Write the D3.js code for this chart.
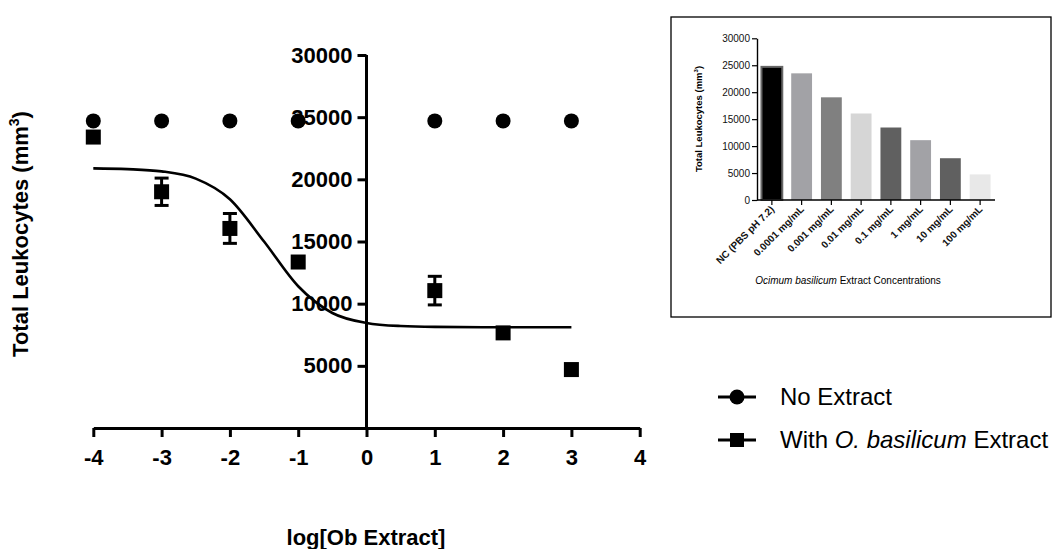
<!DOCTYPE html>
<html>
<head>
<meta charset="utf-8">
<script src="https://cdn.jsdelivr.net/npm/d3@7/dist/d3.min.js"></script>
<style>
  body { margin: 0; background: #fff; }
  svg { display: block; font-family: "Liberation Sans", Arial, sans-serif; }
</style>
</head>
<body>
<svg id="chart" width="1057" height="549"></svg>
<script>
// main dose-response data (log concentration)
const doses = [-4, -3, -2, -1, 1, 2, 3];
const noExtract = [24700, 24700, 24700, 24700, 24700, 24700, 24700];
const withExtract = [23400, 19000, 16050, 13350, 11050, 7650, 4700];
const withExtractErr = [0, 1100, 1200, 0, 1150, 0, 0];

// fitted curve
const fitX = [-4, -3.5, -3, -2.5, -2, -1.5, -1, -0.5, 0, 0.5, 1, 2, 3];
const fitY = [20880, 20820, 20640, 20060, 18400, 15000, 11400, 9250, 8450, 8200, 8130, 8100, 8100];

const xTicks = [-4, -3, -2, -1, 0, 1, 2, 3, 4];
const yTicks = [5000, 10000, 15000, 20000, 25000, 30000];

// inset bar chart
const barLabels = ['NC (PBS pH 7.2)', '0.0001 mg/mL', '0.001 mg/mL', '0.01 mg/mL',
    '0.1 mg/mL', '1 mg/mL', '10 mg/mL', '100 mg/mL'];
const barValues = [24700, 23500, 19050, 16050, 13450, 11100, 7750, 4750];
const barColors = ['#000000', '#a2a2a6', '#808080', '#d6d6d6', '#606060', '#a2a2a6', '#606060', '#e8e8e8'];
const barTicks = [0, 5000, 10000, 15000, 20000, 25000, 30000];

const svg = d3.select('#chart');
const font = '"Liberation Sans", Arial, sans-serif';

// ---------- main chart ----------
const x = d3.scaleLinear().domain([-4, 4]).range([93.3, 639.7]);
const y = d3.scaleLinear().domain([0, 30000]).range([428, 55]);

const xAxis = svg.append('g')
    .attr('transform', `translate(0,${y(0)})`)
    .call(d3.axisBottom(x).tickValues(xTicks)
        .tickSize(9).tickSizeOuter(0).tickPadding(12));

const yAxis = svg.append('g')
    .attr('transform', `translate(${x(0)},0)`)
    .call(d3.axisLeft(y).tickValues(yTicks).tickFormat(d3.format('d'))
        .tickSize(9).tickSizeOuter(0).tickPadding(5));

[xAxis, yAxis].forEach(a => {
    a.select('.domain').attr('stroke', '#000').attr('stroke-width', 3);
    a.selectAll('.tick line').attr('stroke', '#000').attr('stroke-width', 3);
    a.selectAll('.tick text')
        .attr('fill', '#000')
        .style('font-family', font)
        .style('font-size', '22px')
        .style('font-weight', 'bold');
});
xAxis.selectAll('.tick text').text(d => String(d));
yAxis.select('.domain').attr('d', `M0,${y(0)}V${y(30000)}`);

// fitted curve
const line = d3.line()
    .x(d => x(d[0]))
    .y(d => y(d[1]))
    .curve(d3.curveMonotoneX);

svg.append('path')
    .datum(fitX.map((v, i) => [v, fitY[i]]))
    .attr('d', line)
    .attr('fill', 'none')
    .attr('stroke', '#000')
    .attr('stroke-width', 2.6);

// no extract circles
svg.append('g')
    .selectAll('circle')
    .data(doses.map((d, i) => [d, noExtract[i]]))
    .join('circle')
    .attr('cx', d => x(d[0]))
    .attr('cy', d => y(d[1]))
    .attr('r', 7.5)
    .attr('fill', '#000');

// error bars for extract group
const errData = doses.map((d, i) => ({ dose: d, v: withExtract[i], e: withExtractErr[i] }))
    .filter(d => d.e > 0);
const err = svg.append('g').attr('stroke', '#000').attr('stroke-width', 3);
err.selectAll('line.v')
    .data(errData)
    .join('line')
    .attr('class', 'v')
    .attr('x1', d => x(d.dose)).attr('x2', d => x(d.dose))
    .attr('y1', d => y(d.v - d.e)).attr('y2', d => y(d.v + d.e));
err.selectAll('line.cap')
    .data(errData.flatMap(d => [[d.dose, d.v - d.e], [d.dose, d.v + d.e]]))
    .join('line')
    .attr('class', 'cap')
    .attr('x1', d => x(d[0]) - 7).attr('x2', d => x(d[0]) + 7)
    .attr('y1', d => y(d[1])).attr('y2', d => y(d[1]));

// extract squares
svg.append('g')
    .selectAll('rect')
    .data(doses.map((d, i) => [d, withExtract[i]]))
    .join('rect')
    .attr('x', d => x(d[0]) - 7.5)
    .attr('y', d => y(d[1]) - 7.5)
    .attr('width', 15)
    .attr('height', 15)
    .attr('fill', '#000');

// axis titles
const yTitle = svg.append('text')
    .attr('transform', 'translate(28,234) rotate(-90)')
    .attr('text-anchor', 'middle')
    .style('font-size', '22px')
    .style('font-weight', 'bold');
yTitle.append('tspan').text('Total Leukocytes (mm');
yTitle.append('tspan').text('3').style('font-size', '14px').attr('dy', -9);
yTitle.append('tspan').text(')').attr('dy', 9);

svg.append('text')
    .attr('x', 366)
    .attr('y', 545)
    .attr('text-anchor', 'middle')
    .style('font-size', '22px')
    .style('font-weight', 'bold')
    .text('log[Ob Extract]');

// legend
const legendRows = [397, 440];
const legend = svg.append('g');
legendRows.forEach(ly => {
    legend.append('line')
        .attr('x1', 718).attr('x2', 756)
        .attr('y1', ly).attr('y2', ly)
        .attr('stroke', '#000').attr('stroke-width', 3);
});
legend.append('circle').attr('cx', 737).attr('cy', legendRows[0]).attr('r', 7.5).attr('fill', '#000');
legend.append('rect').attr('x', 730).attr('y', legendRows[1] - 7).attr('width', 14).attr('height', 14).attr('fill', '#000');
legend.append('text')
    .attr('x', 780).attr('y', legendRows[0] + 8)
    .style('font-size', '24px')
    .text('No Extract');
const l2 = legend.append('text')
    .attr('x', 780).attr('y', legendRows[1] + 8)
    .style('font-size', '24px');
l2.append('tspan').text('With ');
l2.append('tspan').text('O. basilicum').style('font-style', 'italic');
l2.append('tspan').text(' Extract');

// ---------- inset bar chart ----------
const inset = svg.append('g');
inset.append('rect')
    .attr('x', 671).attr('y', 17)
    .attr('width', 380).attr('height', 300)
    .attr('fill', '#fff')
    .attr('stroke', '#000')
    .attr('stroke-width', 1.3);

const bx = d3.scaleBand().domain(barLabels).range([757, 995]).paddingInner(0.3).paddingOuter(0.15);
const by = d3.scaleLinear().domain([0, 30000]).range([200, 38.3]);

inset.append('g')
    .selectAll('rect')
    .data(barLabels.map((l, i) => ({ l, v: barValues[i], c: barColors[i] })))
    .join('rect')
    .attr('x', d => bx(d.l))
    .attr('y', d => by(d.v))
    .attr('width', bx.bandwidth())
    .attr('height', d => by(0) - by(d.v))
    .attr('fill', d => d.c)
    .attr('stroke', (d, i) => i === 0 ? '#666' : 'none')
    .attr('stroke-width', 2);

const byAxis = inset.append('g')
    .attr('transform', 'translate(757,0)')
    .call(d3.axisLeft(by).tickValues(barTicks).tickFormat(d3.format('d'))
        .tickSize(5).tickSizeOuter(0).tickPadding(2));

const bxAxis = inset.append('g')
    .attr('transform', `translate(0,${by(0)})`)
    .call(d3.axisBottom(bx).tickSize(5).tickSizeOuter(0));

[byAxis, bxAxis].forEach(a => {
    a.select('.domain').attr('stroke', '#000').attr('stroke-width', 1.4);
    a.selectAll('.tick line').attr('stroke', '#000').attr('stroke-width', 1.2);
    a.selectAll('.tick text')
        .attr('fill', '#111')
        .style('font-family', font)
        .style('font-size', '10px');
});
bxAxis.select('.domain').attr('d', 'M757,0H995');
bxAxis.selectAll('.tick text')
    .attr('text-anchor', 'end')
    .attr('dy', 0)
    .attr('y', 0)
    .attr('transform', 'translate(3,10) rotate(-45)')
    .style('font-weight', 'bold');

const biy = inset.append('text')
    .attr('transform', 'translate(702,119) rotate(-90)')
    .attr('text-anchor', 'middle')
    .style('font-size', '9.5px')
    .style('font-weight', 'bold');
biy.append('tspan').text('Total Leukocytes (mm');
biy.append('tspan').text('3').style('font-size', '6px').attr('dy', -4);
biy.append('tspan').text(')').attr('dy', 4);

const bix = inset.append('text')
    .attr('x', 848).attr('y', 284)
    .attr('text-anchor', 'middle')
    .style('font-size', '10px');
bix.append('tspan').text('Ocimum basilicum').style('font-style', 'italic');
bix.append('tspan').text(' Extract Concentrations');
</script>
</body>
</html>
